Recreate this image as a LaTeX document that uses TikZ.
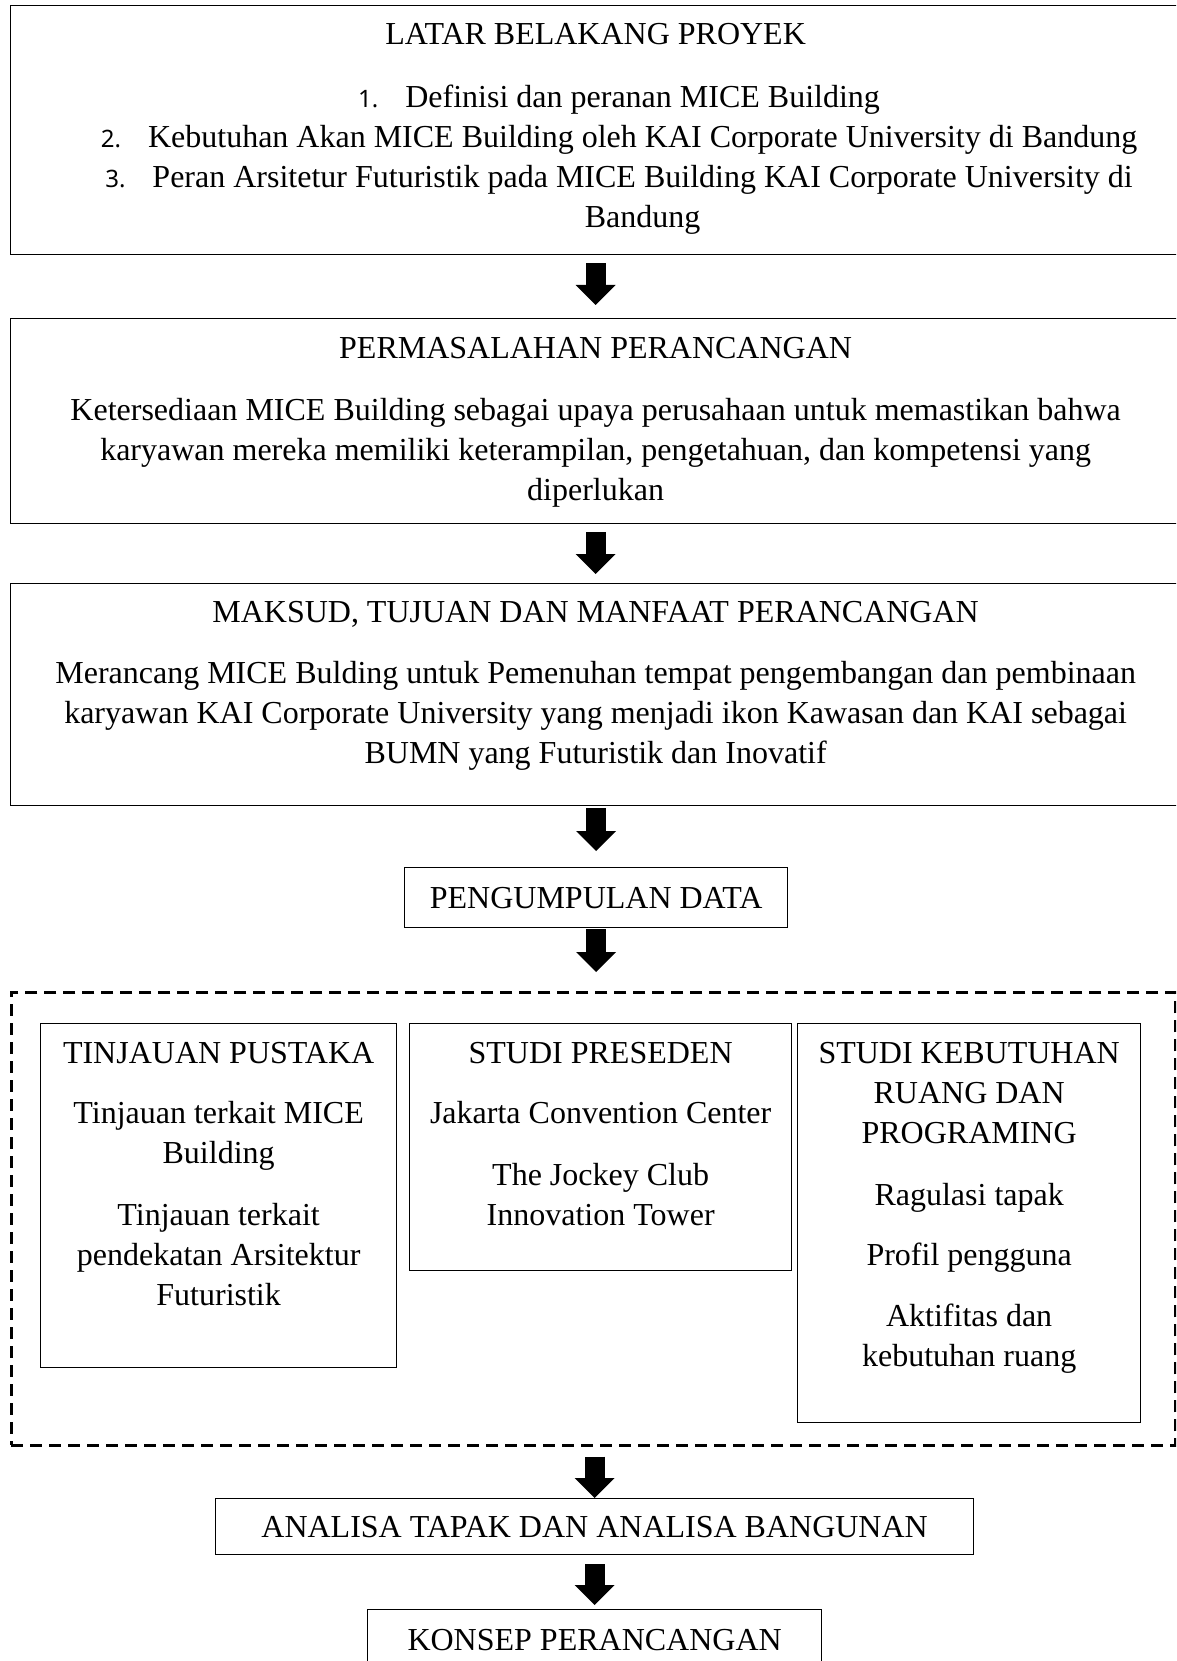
\documentclass[tikz,border=0pt]{standalone}
\usepackage{fontspec}
\setmainfont{Liberation Serif}
\newfontfamily\numfont{Noto Sans}
\usetikzlibrary{arrows.meta}
\newcommand\listnum[1]{\leavevmode\llap{\numfont\fontsize{24}{40}\selectfont #1.\hspace{27pt}}}

\begin{document}
\begin{tikzpicture}[x=1pt, y=-1pt,
    box/.style={draw, line width=1.3pt, inner sep=0pt, anchor=north west,
        font=\fontsize{32}{40}\selectfont},
    frame/.style={draw, line width=2.5pt, dash pattern=on 12pt off 7pt,
        inner sep=0pt, anchor=north west},
    txt/.style={font=\fontsize{32}{40}\selectfont, align=flush center, inner sep=0pt,
        text width=#1, anchor=base},
    txt/.default=380pt,
    flow/.style={line width=20pt, -{Triangle[width=40pt, length=20pt, line width=0pt 0]}}]
    \useasboundingbox (0,0) rectangle (1176,1661);
    \clip (0,0) rectangle (1176,1661);
    \node[box, minimum width=1170pt, minimum height=249pt] (latar) at (10,5) {};
    \node[txt=1160pt] (latarTitle) at ([yshift=-40pt]latar.north) {LATAR BELAKANG PROYEK};
    \node[txt=1100pt] (latarList) at ([xshift=47pt, yshift=-103pt]latar.north)
        {\listnum{1}Definisi dan peranan MICE Building\\
         \listnum{2}Kebutuhan Akan MICE Building oleh KAI Corporate University di Bandung\\
         \listnum{3}Peran Arsitetur Futuristik pada MICE Building KAI Corporate University di\\
         Bandung};
    \node[box, minimum width=1170pt, minimum height=205pt] (masalah) at (10,318) {};
    \node[txt=1160pt] (masalahText) at ([yshift=-40pt]masalah.north)
        {PERMASALAHAN PERANCANGAN\\[22pt]
         Ketersediaan MICE Building sebagai upaya perusahaan untuk memastikan bahwa\\
         karyawan mereka memiliki keterampilan, pengetahuan, dan kompetensi yang\\
         diperlukan};
    \node[box, minimum width=1170pt, minimum height=222pt] (maksud) at (10,583) {};
    \node[txt=1160pt] (maksudText) at ([yshift=-39pt]maksud.north)
        {MAKSUD, TUJUAN DAN MANFAAT PERANCANGAN\\[21pt]
         Merancang MICE Bulding untuk Pemenuhan tempat pengembangan dan pembinaan\\
         karyawan KAI Corporate University yang menjadi ikon Kawasan dan KAI sebagai\\
         BUMN yang Futuristik dan Inovatif};
    \node[box, minimum width=383pt, minimum height=60pt] (data) at (404,867) {PENGUMPULAN DATA};
    \node[frame, minimum width=1164pt, minimum height=453pt] (kajian) at (10,991) {};
    \node[box, minimum width=356pt, minimum height=344pt] (tinjauan) at (40,1023) {};
    \node[txt] (tinjauanText) at ([yshift=-40pt]tinjauan.north)
        {TINJAUAN PUSTAKA\\[20pt]
         Tinjauan terkait MICE\\ Building\\[22pt]
         Tinjauan terkait\\ pendekatan Arsitektur\\ Futuristik};
    \node[box, minimum width=382pt, minimum height=247pt] (preseden) at (409,1023) {};
    \node[txt] (presedenText) at ([yshift=-40pt]preseden.north)
        {STUDI PRESEDEN\\[20pt]
         Jakarta Convention Center\\[22pt]
         The Jockey Club\\ Innovation Tower};
    \node[box, minimum width=343pt, minimum height=399pt] (kebutuhan) at (797,1023) {};
    \node[txt] (kebutuhanText) at ([yshift=-40pt]kebutuhan.north)
        {STUDI KEBUTUHAN\\ RUANG DAN\\ PROGRAMING\\[22pt]
         Ragulasi tapak\\[20pt]
         Profil pengguna\\[21pt]
         Aktifitas dan\\ kebutuhan ruang};
    \node[box, minimum width=758pt, minimum height=56pt] (analisa) at (215,1498) {ANALISA TAPAK DAN ANALISA BANGUNAN};
    \node[box, minimum width=454pt, minimum height=60pt] (konsep) at (367,1609) {KONSEP PERANCANGAN};
    \draw[flow, shorten <=8pt, shorten >=13pt] (latar.south) -- (masalah.north);
    \draw[flow, shorten <=8pt, shorten >=9pt] (masalah.south) -- (maksud.north);
    \draw[flow, shorten <=2pt, shorten >=16pt] (maksud.south -| data.north) -- (data.north);
    \draw[flow, shorten <=1pt, shorten >=19pt] (data.south) -- (data.south |- kajian.north);
    \draw[flow, shorten <=10pt] (kajian.south -| analisa.north) -- (analisa.north);
    \draw[flow, shorten <=9pt, shorten >=4pt] (analisa.south) -- (konsep.north);
\end{tikzpicture}
\end{document}
